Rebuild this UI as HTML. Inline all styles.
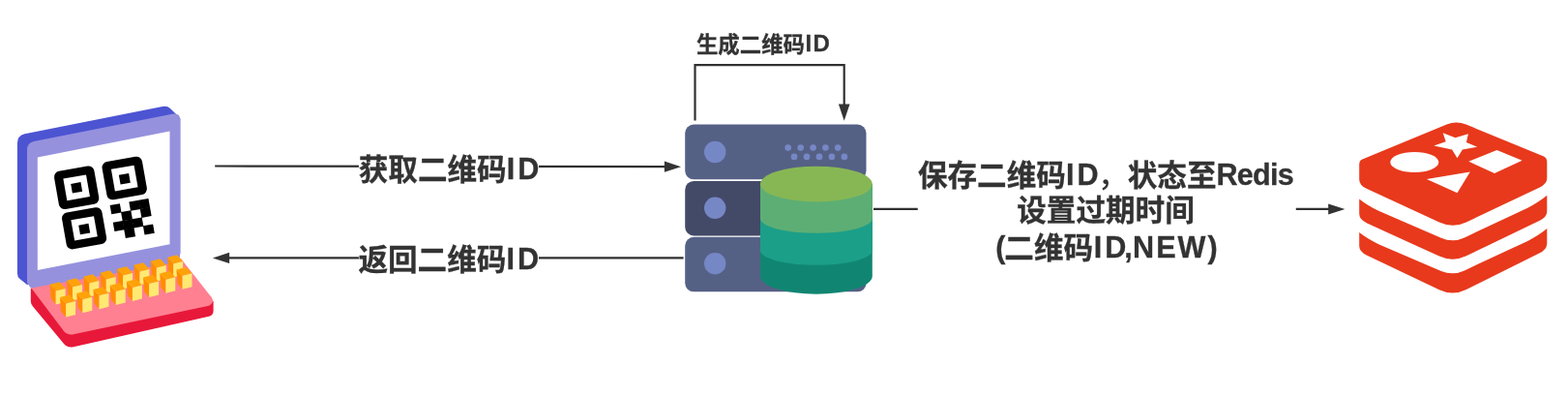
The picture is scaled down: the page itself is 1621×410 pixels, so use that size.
<!DOCTYPE html>
<html lang="zh-CN">
<head>
<meta charset="utf-8">
<title>二维码ID流程</title>
<style>
html,body{margin:0;padding:0;background:#fff;}
body{width:1621px;height:410px;position:relative;overflow:hidden;font-family:"Liberation Sans","Noto Sans CJK SC",sans-serif;}
#art{position:absolute;left:0;top:0;width:1621px;height:410px;filter:blur(.6px);}
.lbl{filter:blur(.5px);-webkit-text-stroke:.3px #333;position:absolute;white-space:nowrap;color:#333;font-weight:bold;font-size:30.6px;line-height:36px;transform:translate(-50%,-50%);text-align:center;}
.lbl .en{font-size:30.6px;letter-spacing:1.9px;line-height:0;position:relative;top:-1.1px;}
.lbl .id{letter-spacing:3px;margin-right:-3.4px;}
.lbl .rd{letter-spacing:-.75px;}
.lbl .nw{letter-spacing:2px;margin-right:-2px;}
.lbl .pl{letter-spacing:-1.2px;}
.lbl .cm{letter-spacing:.3px;margin-left:-1.8px;}
.lbl .id3{margin-left:.7px;}
.lbl .fc{font-weight:500;-webkit-text-stroke:0;}
.lbl.sm{font-size:22.4px;line-height:28px;}
.lbl.sm .en{font-size:24px;letter-spacing:1.5px;margin-left:.5px;margin-right:-1.4px;}
</style>
</head>
<body>
<svg id="art" width="1621" height="410" viewBox="0 0 1621 410">
<!-- LAPTOP -->
<g id="laptop">
  <!-- base side (red) -->
  <path d="M31.8 298 L31.8 311 Q31.8 314 34 316.5 L66 355 Q69.5 359.5 76 358.2 L216 326.8 Q220.6 325.6 220.6 321 L220.6 311 Z" fill="#e8183a"/>
  <!-- base top (pink) -->
  <path d="M31.8 296.8 L183 266.5 L187 267 L219 307.5 Q222 312.5 216 315.8 L76 345.2 Q69.5 346.4 66 342 Z" fill="#ff8091"/>
  <!-- screen back (dark blue) -->
  <path d="M17.9 148 Q17.9 140 25.6 138.2 L168 110 Q173 109 176 112 L186.3 122 L186.3 262 L28 294 L20.5 288 Q17.9 286 17.9 282 Z" fill="#4c54d2"/>
  <!-- screen front (purple) -->
  <path d="M28 155 Q28 147.5 35 146 L178 117.8 Q186.3 116.2 186.3 124 L186.3 261 Q186.3 270.4 180.5 271.4 L31.8 297.5 L28 292 Z" fill="#9691dd"/>
  <!-- display -->
  <path d="M38.8 162.4 L175.5 135.5 L175.5 252.2 L38.8 279 Z" fill="#fff"/>
  <!-- qr -->
  <g transform="translate(57 177.5) rotate(-10)"><rect x="-2" y="0" width="42" height="39.8" rx="6" ry="6" fill="#000"/><rect x="7" y="8.4" width="24" height="23" fill="#fff"/><rect x="13.8" y="15" width="10.4" height="9.8" fill="#000"/><rect x="48.5" y="-1" width="42" height="39.8" rx="6" ry="6" fill="#000"/><rect x="57.5" y="7.4" width="24" height="23" fill="#fff"/><rect x="64.3" y="14.7" width="10.4" height="9.8" fill="#000"/><rect x="-1.5" y="43.5" width="42" height="38.3" rx="6" ry="6" fill="#000"/><rect x="7.5" y="51.9" width="24" height="21.5" fill="#fff"/><rect x="14.3" y="58.5" width="10.4" height="9.8" fill="#000"/><rect x="49.8" y="43.8" width="10.4" height="9.4" fill="#000"/><rect x="69.8" y="43.8" width="10.4" height="9.4" fill="#000"/><rect x="79.8" y="43.8" width="10.4" height="9.4" fill="#000"/><rect x="59.8" y="52.8" width="10.4" height="9.4" fill="#000"/><rect x="79.8" y="52.8" width="10.4" height="9.4" fill="#000"/><rect x="49.8" y="61.8" width="10.4" height="9.4" fill="#000"/><rect x="59.8" y="61.8" width="10.4" height="9.4" fill="#000"/><rect x="69.8" y="61.8" width="10.4" height="9.4" fill="#000"/><rect x="59.8" y="70.8" width="10.4" height="9.4" fill="#000"/><rect x="79.8" y="70.8" width="10.4" height="9.4" fill="#000"/></g>
  <!-- keys -->
  <polygon points="51.5,293.7 57.6,300.4 57.6,314.4 52.7,308.3" fill="#ff8c00"/><polygon points="57.6,300.4 67.6,297.9 61.5,291.2 51.5,293.7" fill="#ffa20a"/><polygon points="57.6,300.4 67.6,297.9 67.6,311.9 57.6,314.4" fill="#ffe972"/>
  <polygon points="68.86,289.7 74.96,296.4 74.96,310.4 70.06,304.3" fill="#ff8c00"/><polygon points="74.96,296.4 84.96,293.9 78.86,287.2 68.86,289.7" fill="#ffa20a"/><polygon points="74.96,296.4 84.96,293.9 84.96,307.9 74.96,310.4" fill="#ffe972"/>
  <polygon points="86.22,285.7 92.32,292.4 92.32,306.4 87.42,300.3" fill="#ff8c00"/><polygon points="92.32,292.4 102.32,289.9 96.22,283.2 86.22,285.7" fill="#ffa20a"/><polygon points="92.32,292.4 102.32,289.9 102.32,303.9 92.32,306.4" fill="#ffe972"/>
  <polygon points="103.58,281.7 109.68,288.4 109.68,302.4 104.78,296.3" fill="#ff8c00"/><polygon points="109.68,288.4 119.68,285.9 113.58,279.2 103.58,281.7" fill="#ffa20a"/><polygon points="109.68,288.4 119.68,285.9 119.68,299.9 109.68,302.4" fill="#ffe972"/>
  <polygon points="120.94,277.7 127.04,284.4 127.04,298.4 122.14,292.3" fill="#ff8c00"/><polygon points="127.04,284.4 137.04,281.9 130.94,275.2 120.94,277.7" fill="#ffa20a"/><polygon points="127.04,284.4 137.04,281.9 137.04,295.9 127.04,298.4" fill="#ffe972"/>
  <polygon points="138.3,273.7 144.4,280.4 144.4,294.4 139.5,288.3" fill="#ff8c00"/><polygon points="144.4,280.4 154.4,277.9 148.3,271.2 138.3,273.7" fill="#ffa20a"/><polygon points="144.4,280.4 154.4,277.9 154.4,291.9 144.4,294.4" fill="#ffe972"/>
  <polygon points="155.66,269.7 161.76,276.4 161.76,290.4 156.86,284.3" fill="#ff8c00"/><polygon points="161.76,276.4 171.76,273.9 165.66,267.2 155.66,269.7" fill="#ffa20a"/><polygon points="161.76,276.4 171.76,273.9 171.76,287.9 161.76,290.4" fill="#ffe972"/>
  <polygon points="173.02,265.7 179.12,272.4 179.12,286.4 174.22,280.3" fill="#ff8c00"/><polygon points="179.12,272.4 189.12,269.9 183.02,263.2 173.02,265.7" fill="#ffa20a"/><polygon points="179.12,272.4 189.12,269.9 189.12,283.9 179.12,286.4" fill="#ffe972"/>
  <polygon points="62,307.1 68.1,313.4 68.1,327.4 63.2,321.7" fill="#ff8c00"/><polygon points="68.1,313.4 78.1,310.9 72,304.6 62,307.1" fill="#ffa20a"/><polygon points="68.1,313.4 78.1,310.9 78.1,324.9 68.1,327.4" fill="#ffe972"/>
  <polygon points="79.2,303 85.3,309.3 85.3,323.3 80.4,317.6" fill="#ff8c00"/><polygon points="85.3,309.3 95.3,306.8 89.2,300.5 79.2,303" fill="#ffa20a"/><polygon points="85.3,309.3 95.3,306.8 95.3,320.8 85.3,323.3" fill="#ffe972"/>
  <polygon points="96.4,298.9 102.5,305.2 102.5,319.2 97.6,313.5" fill="#ff8c00"/><polygon points="102.5,305.2 112.5,302.7 106.4,296.4 96.4,298.9" fill="#ffa20a"/><polygon points="102.5,305.2 112.5,302.7 112.5,316.7 102.5,319.2" fill="#ffe972"/>
  <polygon points="113.6,294.8 119.7,301.1 119.7,315.1 114.8,309.4" fill="#ff8c00"/><polygon points="119.7,301.1 129.7,298.6 123.6,292.3 113.6,294.8" fill="#ffa20a"/><polygon points="119.7,301.1 129.7,298.6 129.7,312.6 119.7,315.1" fill="#ffe972"/>
  <polygon points="130.8,290.7 136.9,297 136.9,311 132,305.3" fill="#ff8c00"/><polygon points="136.9,297 146.9,294.5 140.8,288.2 130.8,290.7" fill="#ffa20a"/><polygon points="136.9,297 146.9,294.5 146.9,308.5 136.9,311" fill="#ffe972"/>
  <polygon points="148,286.6 154.1,292.9 154.1,306.9 149.2,301.2" fill="#ff8c00"/><polygon points="154.1,292.9 164.1,290.4 158,284.1 148,286.6" fill="#ffa20a"/><polygon points="154.1,292.9 164.1,290.4 164.1,304.4 154.1,306.9" fill="#ffe972"/>
  <polygon points="165.2,282.5 171.3,288.8 171.3,302.8 166.4,297.1" fill="#ff8c00"/><polygon points="171.3,288.8 181.3,286.3 175.2,280 165.2,282.5" fill="#ffa20a"/><polygon points="171.3,288.8 181.3,286.3 181.3,300.3 171.3,302.8" fill="#ffe972"/>
  <polygon points="182.4,278.4 188.5,284.7 188.5,298.7 183.6,293" fill="#ff8c00"/><polygon points="188.5,284.7 198.5,282.2 192.4,275.9 182.4,278.4" fill="#ffa20a"/><polygon points="188.5,284.7 198.5,282.2 198.5,296.2 188.5,298.7" fill="#ffe972"/>
</g>
<!-- SERVER -->
<g id="server">
  <rect x="708.2" y="128.5" width="187.3" height="56.8" rx="9" fill="#556085"/>
  <rect x="708.2" y="186.9" width="187.3" height="56.5" rx="9" fill="#434a67"/>
  <rect x="708.2" y="244.8" width="187.3" height="56.5" rx="9" fill="#556085"/>
  <circle cx="739.2" cy="157" r="11.2" fill="#7687c6"/>
  <circle cx="739.2" cy="214.8" r="11.2" fill="#7687c6"/>
  <circle cx="739.2" cy="272.2" r="11.2" fill="#7687c6"/>
  <g fill="#7687c6">
    <circle cx="814.7" cy="152.6" r="3.3"/><circle cx="827.7" cy="152.6" r="3.3"/><circle cx="840.6" cy="152.6" r="3.3"/><circle cx="853.4" cy="152.6" r="3.3"/><circle cx="866.2" cy="152.6" r="3.3"/>
    <circle cx="821" cy="161.9" r="3.3"/><circle cx="834" cy="161.9" r="3.3"/><circle cx="847" cy="161.9" r="3.3"/><circle cx="859.9" cy="161.9" r="3.3"/><circle cx="872.9" cy="161.9" r="3.3"/>
  </g>
  <!-- cylinder -->
  <path d="M786 190 L786 285.2 A57.9 18.5 0 0 0 901.8 285.2 L901.8 190 Z" fill="#108672"/>
  <path d="M786 190 L786 258.8 A57.9 15 0 0 0 901.8 258.8 L901.8 190 Z" fill="#1b9f88"/>
  <path d="M786 190 L786 225.8 A57.9 15 0 0 0 901.8 225.8 L901.8 190 Z" fill="#5dae74"/>
  <ellipse cx="843.9" cy="190.1" rx="57.9" ry="18.4" fill="#87b755"/>
</g>
<!-- REDIS -->
<g id="redis" fill="#e8391c">
  <path d="M1495.6 128.4 Q1505.6 124.4 1515.6 128.5 L1595.9 161.6 Q1599.3 163.3 1599.3 167.5 L1599.3 183.9 Q1599.3 189.9 1591.3 193.7 L1515.9 229.4 Q1501.9 236.0 1487.9 229.5 L1413.2 195.1 Q1405.2 191.4 1405.2 185.4 L1405.2 169.5 Q1405.2 165.8 1408.4 164.4 Z"/>
  <path d="M1405.2 205.5 Q1413.2 212.0 1425.2 217.8 L1489.9 245.8 Q1501.9 251.0 1513.9 245.4 L1579.3 214.8 Q1591.3 208.5 1599.3 201.8 L1599.3 218.2 Q1599.3 224.2 1591.3 228.0 L1515.9 264.3 Q1501.9 271.0 1487.9 264.6 L1413.2 230.5 Q1405.2 226.8 1405.2 220.8 Z"/>
  <path d="M1405.2 240.0 Q1413.2 246.4 1425.2 252.2 L1489.9 279.9 Q1501.9 285.0 1513.9 279.4 L1579.3 248.9 Q1591.3 242.7 1599.3 236.0 L1599.3 251.6 Q1599.3 257.6 1591.3 261.6 L1515.9 299.0 Q1501.9 306.0 1487.9 299.3 L1413.2 263.8 Q1405.2 260.0 1405.2 254.0 Z"/>
</g>
<g fill="#fff">
  <polygon points="1491.7,137.3 1504.5,142.2 1517.9,138.3 1515.9,147.1 1527.2,151.8 1511.9,154.4 1506.5,163.3 1501.1,154.4 1482.3,150.6 1494.7,146.2"/>
  <ellipse cx="1462.3" cy="167.5" rx="25" ry="10.6"/>
  <polygon points="1518.4,166.8 1547.5,154.9 1573.6,165.8 1545,179.1"/>
  <polygon points="1474.9,184.9 1519.8,177.5 1506.5,199.2"/>
</g>
<!-- CONNECTORS -->
<g stroke="#303030" stroke-width="2.2" fill="none">
  <path d="M222.2 171.5 L688 172.2"/>
  <path d="M706.6 266.3 L236 266.3"/>
  <path d="M718.5 124.6 L718.5 67.1 L872.7 67.1 L872.7 108.5"/>
  <path d="M903 215.8 L1374 215.8"/>
</g>
<g fill="#333">
  <path d="M704 172.2 L686.9 166.6 L686.9 177.8 Z"/>
  <path d="M219.9 266.4 L237.1 260.8 L237.1 272 Z"/>
  <path d="M872.7 124.8 L866.9 107.4 L878.5 107.4 Z"/>
  <path d="M1390.4 216 L1373.2 210.4 L1373.2 221.6 Z"/>
</g>
</svg>
<div class="lbl" style="left:463.8px;top:174.6px;background:#fff;">获取二维码<span class="en id">ID</span></div>
<div class="lbl" style="left:463.5px;top:268.4px;background:#fff;">返回二维码<span class="en id">ID</span></div>
<div class="lbl sm" style="left:789px;top:46.6px;">生成二维码<span class="en id">ID</span></div>
<div class="lbl" style="left:1144.2px;top:218.6px;background:#fff;line-height:37.5px;padding-right:2.4px;">保存二维码<span class="en id">ID</span><span class="fc">，</span>状态至<span class="en rd">Redis</span><br><span style="position:relative;top:-1px;">设置过期时间</span><br><span style="padding-left:2px;"><span class="en pl">(</span>二维码<span class="en id id3">ID</span><span class="en cm">,</span><span class="en nw">NEW)</span></span></div>
</body>
</html>
